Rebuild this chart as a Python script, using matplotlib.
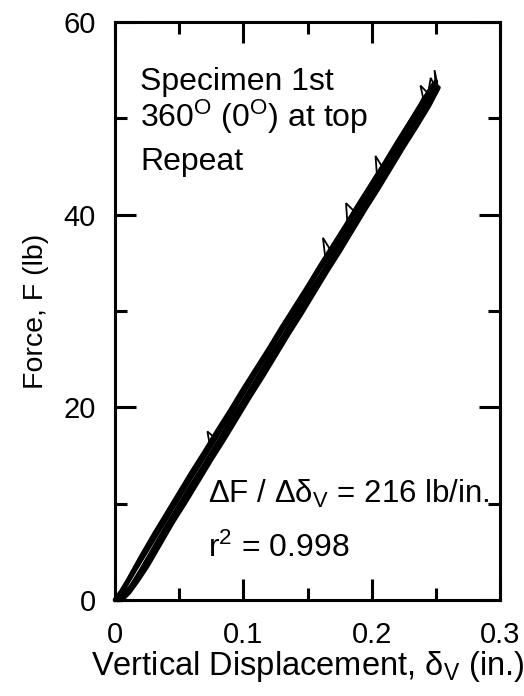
import matplotlib
matplotlib.use("Agg")
import matplotlib.pyplot as plt
from matplotlib.ticker import MultipleLocator

plt.rcParams['font.family'] = ['Liberation Sans', 'DejaVu Sans']
plt.rcParams['mathtext.fontset'] = 'custom'
plt.rcParams['mathtext.rm'] = 'Liberation Sans'
plt.rcParams['mathtext.it'] = 'Liberation Sans:italic'
plt.rcParams['mathtext.sf'] = 'Liberation Sans'

# load / unload passes (displacement in., force lb)
load1_d = [0.000, 0.005, 0.010, 0.020, 0.030, 0.040, 0.050, 0.060, 0.070, 0.080, 0.090, 0.100, 0.110,
           0.120, 0.130, 0.140, 0.150, 0.160, 0.170, 0.180, 0.190, 0.200, 0.210, 0.220, 0.230, 0.240, 0.248]
load1_f = [0.0, 0.9, 2.0, 4.4, 6.7, 8.9, 11.1, 13.3, 15.4, 17.6, 19.7, 21.9, 24.0,
           26.1, 28.3, 30.4, 32.5, 34.7, 36.8, 38.9, 41.1, 43.2, 45.3, 47.5, 49.6, 51.8, 53.5]

unload1_d = [0.249, 0.242, 0.232, 0.222, 0.212, 0.202, 0.192, 0.182, 0.172, 0.162, 0.152, 0.142, 0.132,
             0.122, 0.112, 0.102, 0.092, 0.082, 0.072, 0.062, 0.052, 0.042, 0.032, 0.022, 0.014, 0.008, 0.003]
unload1_f = [53.0, 51.1, 49.0, 46.8, 44.6, 42.5, 40.3, 38.1, 36.0, 33.8, 31.6, 29.5, 27.3,
             25.1, 23.0, 20.8, 18.6, 16.5, 14.3, 12.1, 10.0, 7.8, 5.5, 3.2, 1.6, 0.6, 0.0]

# noisy pass with the small spikes
load2_d = [0.002, 0.008, 0.016, 0.026, 0.036, 0.046, 0.056, 0.066, 0.074, 0.072, 0.078, 0.086, 0.096,
           0.106, 0.116, 0.126, 0.136, 0.146, 0.156, 0.164, 0.162, 0.168, 0.176, 0.181, 0.180, 0.186,
           0.196, 0.204, 0.203, 0.208, 0.216, 0.226, 0.236, 0.240, 0.238, 0.244, 0.246, 0.250, 0.249,
           0.252, 0.247, 0.251]
load2_f = [0.0, 1.3, 3.2, 5.5, 7.7, 9.9, 12.1, 14.2, 16.0, 17.5, 16.8, 18.6, 20.7,
           22.9, 25.0, 27.2, 29.3, 31.5, 33.6, 35.4, 37.6, 36.3, 38.0, 39.3, 41.2, 40.4,
           42.5, 44.3, 46.1, 45.0, 46.7, 48.8, 50.9, 52.2, 53.4, 52.6, 54.2, 53.1, 55.0,
           53.0, 51.8, 53.2]

unload2_d = [0.252, 0.245, 0.235, 0.225, 0.215, 0.205, 0.195, 0.185, 0.175, 0.165, 0.155, 0.145, 0.135,
             0.125, 0.115, 0.105, 0.095, 0.085, 0.075, 0.065, 0.055, 0.045, 0.035, 0.025, 0.017, 0.011, 0.005]
unload2_f = [53.2, 51.4, 49.2, 47.1, 44.9, 42.7, 40.6, 38.4, 36.2, 34.1, 31.9, 29.7, 27.6,
             25.4, 23.2, 21.1, 18.9, 16.7, 14.6, 12.4, 10.2, 8.1, 5.8, 3.5, 1.9, 0.8, 0.0]

load3_d = [0.003, 0.010, 0.019, 0.029, 0.039, 0.049, 0.059, 0.069, 0.079, 0.089, 0.099, 0.109, 0.119,
           0.129, 0.139, 0.149, 0.159, 0.169, 0.179, 0.189, 0.199, 0.209, 0.219, 0.229, 0.239, 0.250]
load3_f = [0.3, 1.9, 3.9, 6.1, 8.3, 10.5, 12.7, 14.8, 17.0, 19.1, 21.3, 23.5, 25.6,
           27.8, 29.9, 32.1, 34.3, 36.4, 38.6, 40.7, 42.9, 45.0, 47.2, 49.4, 51.5, 53.8]

unload3_d = [0.250, 0.240, 0.230, 0.220, 0.210, 0.200, 0.190, 0.180, 0.170, 0.160, 0.150, 0.140, 0.130,
             0.120, 0.110, 0.100, 0.090, 0.080, 0.070, 0.060, 0.050, 0.040, 0.030, 0.020, 0.013, 0.007, 0.002]
unload3_f = [53.1, 51.0, 48.8, 46.6, 44.5, 42.3, 40.1, 38.0, 35.8, 33.6, 31.5, 29.3, 27.1,
             25.0, 22.8, 20.6, 18.5, 16.3, 14.1, 12.0, 9.8, 7.6, 5.3, 3.0, 1.5, 0.5, 0.0]

thick_passes = [(load1_d, load1_f), (unload1_d, unload1_f), (unload2_d, unload2_f),
                (load3_d, load3_f), (unload3_d, unload3_f)]

fig = plt.figure(figsize=(5.24, 6.96), dpi=100)
ax = fig.add_axes([115 / 524, 96 / 696, 385 / 524, 578 / 696])

for d, f in thick_passes:
    ax.plot(d, f, color='black', lw=3.4, solid_capstyle='round', clip_on=False)
ax.plot(load2_d, load2_f, color='black', lw=1.3, solid_joinstyle='miter', clip_on=False)

ax.set_xlim(0, 0.3)
ax.set_ylim(0, 60)
ax.set_xticks([0, 0.1, 0.2, 0.3])
ax.set_xticklabels(['0', '0.1', '0.2', '0.3'])
ax.xaxis.set_minor_locator(MultipleLocator(0.05))
ax.yaxis.set_major_locator(MultipleLocator(20))
ax.yaxis.set_minor_locator(MultipleLocator(10))

ax.tick_params(which='both', direction='in', top=True, right=True, width=2.2, labelsize=21)
ax.tick_params(which='major', length=15)
ax.tick_params(which='minor', length=8.6)
ax.tick_params(axis='x', pad=15)
ax.tick_params(axis='y', pad=14)
for s in ax.spines.values():
    s.set_linewidth(2.2)

ax.set_xlabel(r'Vertical Displacement, δ$_\mathrm{V}$ (in.)', fontsize=23.5, labelpad=0)
ax.set_ylabel('Force, F (lb)', fontsize=20.5, labelpad=10)

ax.text(0.0195, 52.95, 'Specimen 1st', fontsize=23, va='baseline')
ax.text(0.0195, 49.1, r'360$^\mathrm{O}$ (0$^\mathrm{O}$) at top', fontsize=23, va='baseline')
ax.text(0.0195, 44.6, 'Repeat', fontsize=23, va='baseline')
ax.text(0.0725, 10.07, r'ΔF / Δδ$_\mathrm{V}$ = 216 lb/in.', fontsize=22.5, va='baseline')
ax.text(0.0725, 4.46, r'r$^2$ = 0.998', fontsize=23, va='baseline')

fig.savefig('out.png', dpi=100)
